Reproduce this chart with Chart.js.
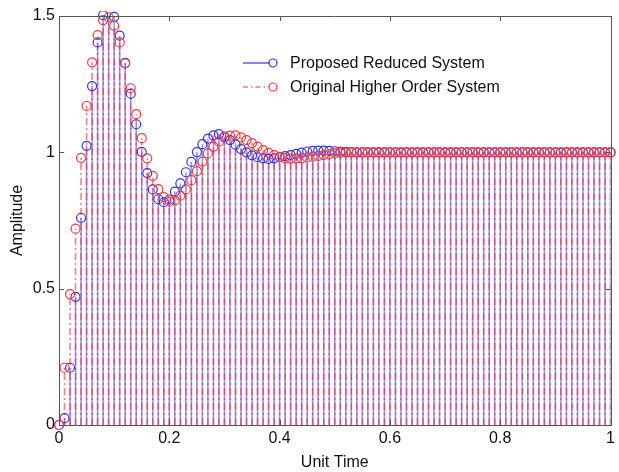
<!DOCTYPE html>
<html>
<head>
<meta charset="utf-8">
<script src="https://cdn.jsdelivr.net/npm/chart.js@4/dist/chart.umd.min.js"></script>
<style>
  html, body { margin: 0; padding: 0; background: #fff; }
  #wrap { width: 619px; height: 472px; }
</style>
</head>
<body>
<div id="wrap"><canvas id="c" width="619" height="472"></canvas></div>
<script>
// ---- data ----
const timeSteps = [0,0.01,0.02,0.03,0.04,0.05,0.06,0.07,0.08,0.09,0.1,0.11,0.12,0.13,0.14,0.15,0.16,0.17,0.18,0.19,0.2,
  0.21,0.22,0.23,0.24,0.25,0.26,0.27,0.28,0.29,0.3,0.31,0.32,0.33,0.34,0.35,0.36,0.37,0.38,0.39,0.4,
  0.41,0.42,0.43,0.44,0.45,0.46,0.47,0.48,0.49,0.5,0.51,0.52,0.53,0.54,0.55,0.56,0.57,0.58,0.59,0.6,
  0.61,0.62,0.63,0.64,0.65,0.66,0.67,0.68,0.69,0.7,0.71,0.72,0.73,0.74,0.75,0.76,0.77,0.78,0.79,0.8,
  0.81,0.82,0.83,0.84,0.85,0.86,0.87,0.88,0.89,0.9,0.91,0.92,0.93,0.94,0.95,0.96,0.97,0.98,0.99,1];

const reducedSystem = [0,0.025,0.21,0.47,0.76,1.024,1.243,1.403,1.503,1.536,1.497,
  1.428,1.328,1.215,1.103,1.002,0.924,0.864,0.828,0.817,0.827,
  0.856,0.886,0.927,0.965,1.001,1.03,1.05,1.062,1.067,1.058,
  1.045,1.028,1.012,1.0,0.989,0.982,0.978,0.976,0.978,0.982,
  0.986,0.99,0.994,0.999,1.003,1.005,1.006,1.006,1.005,1.004,
  1.003,1.002,1.001,1.0,1,1,1,1,1,1,
  1,1,1,1,1,1,1,1,1,1,
  1,1,1,1,1,1,1,1,1,1,
  1,1,1,1,1,1,1,1,1,1,
  1,1,1,1,1,1,1,1,1,1];

const originalSystem = [0,0.21,0.48,0.72,0.98,1.17,1.33,1.43,1.485,1.495,1.464,
  1.403,1.326,1.235,1.14,1.052,0.978,0.914,0.865,0.836,0.819,
  0.824,0.841,0.864,0.898,0.931,0.966,0.996,1.021,1.039,1.054,
  1.061,1.062,1.055,1.045,1.034,1.021,1.008,0.998,0.99,0.983,
  0.979,0.977,0.977,0.978,0.981,0.984,0.987,0.99,0.993,0.996,
  0.998,0.999,1,1,1,1,1,1,1,1,
  1,1,1,1,1,1,1,1,1,1,
  1,1,1,1,1,1,1,1,1,1,
  1,1,1,1,1,1,1,1,1,1,
  1,1,1,1,1,1,1,1,1,1];

const seriesNames = ['Proposed Reduced System', 'Original Higher Order System'];
const xTicks = [0, 0.2, 0.4, 0.6, 0.8, 1];
const yTicks = [0, 0.5, 1, 1.5];

// ---- build datasets ----
function stems(vals) {
  const out = [];
  vals.forEach((v, i) => {
    out.push({x: timeSteps[i], y: 0});
    out.push({x: timeSteps[i], y: v});
    out.push({x: timeSteps[i], y: null});
  });
  return out;
}
function pts(vals) { return vals.map((v, i) => ({x: timeSteps[i], y: v})); }

const BLUE = 'rgb(50,50,255)';
const RED = 'rgb(255,55,55)';
const FONT = '"Liberation Sans", Arial, sans-serif';

const boxAndTicks = {
  id: 'boxAndTicks',
  afterDatasetsDraw(chart) {
    const {ctx, chartArea: a, scales: {x, y}} = chart;
    ctx.save();
    ctx.strokeStyle = '#555';
    ctx.lineWidth = 1;
    ctx.beginPath();
    ctx.rect(Math.round(a.left) + 0.5, Math.round(a.top) + 0.5, Math.round(a.right - a.left), Math.round(a.bottom - a.top));
    ctx.stroke();
    ctx.beginPath();
    xTicks.forEach(t => {
      const px = Math.round(x.getPixelForValue(t)) + 0.5;
      ctx.moveTo(px, a.bottom); ctx.lineTo(px, a.bottom - 5);
      ctx.moveTo(px, a.top); ctx.lineTo(px, a.top + 5);
    });
    yTicks.forEach(t => {
      const py = Math.round(y.getPixelForValue(t)) + 0.5;
      ctx.moveTo(a.left, py); ctx.lineTo(a.left + 5, py);
      ctx.moveTo(a.right, py); ctx.lineTo(a.right - 5, py);
    });
    ctx.stroke();
    ctx.restore();
  },
  afterDraw(chart) {
    const {ctx} = chart;
    ctx.save();
    const rows = [
      {y: 63, color: BLUE, dash: [], text: seriesNames[0]},
      {y: 87, color: RED, dash: [5, 3, 1.5, 3], text: seriesNames[1]}
    ];
    rows.forEach(r => {
      ctx.strokeStyle = r.color;
      ctx.lineWidth = 1.2;
      ctx.setLineDash(r.dash);
      ctx.beginPath();
      ctx.moveTo(243, r.y); ctx.lineTo(269, r.y);
      ctx.stroke();
      ctx.setLineDash([]);
      ctx.beginPath();
      ctx.arc(273, r.y, 4, 0, Math.PI * 2);
      ctx.stroke();
      ctx.fillStyle = '#111';
      ctx.font = '16px ' + FONT;
      ctx.textBaseline = 'middle';
      ctx.textAlign = 'left';
      ctx.fillText(r.text, 290, r.y + 1);
    });
    ctx.restore();
  }
};

new Chart(document.getElementById('c'), {
  type: 'scatter',
  data: {
    datasets: [
      { label: seriesNames[1] + ' markers', data: pts(originalSystem), showLine: false,
        pointStyle: 'circle', pointRadius: 4.5, pointBorderWidth: 1.2, pointBorderColor: RED,
        pointBackgroundColor: 'rgba(0,0,0,0)', order: 0, clip: {left: 6, right: 6, top: 5, bottom: 6} },
      { label: seriesNames[0] + ' markers', data: pts(reducedSystem), showLine: false,
        pointStyle: 'circle', pointRadius: 4.5, pointBorderWidth: 1.2, pointBorderColor: BLUE,
        pointBackgroundColor: 'rgba(0,0,0,0)', order: 1, clip: {left: 6, right: 6, top: 5, bottom: 6} },
      { label: seriesNames[1], data: stems(originalSystem), showLine: true, spanGaps: false,
        borderColor: 'rgba(255,40,40,0.6)', borderWidth: 1.6, borderDash: [7, 3, 2, 3],
        pointRadius: 0, order: 2, clip: 0 },
      { label: seriesNames[0], data: stems(reducedSystem), showLine: true, spanGaps: false,
        borderColor: 'rgba(60,60,255,0.55)', borderWidth: 1.6,
        pointRadius: 0, order: 3, clip: 0 }
    ]
  },
  options: {
    responsive: false,
    animation: false,
    devicePixelRatio: 1,
    layout: { padding: { left: 0, right: 8, top: 16, bottom: 0 } },
    plugins: { legend: { display: false }, tooltip: { enabled: false } },
    scales: {
      x: {
        type: 'linear', min: 0, max: 1,
        afterBuildTicks: s => { s.ticks = xTicks.map(v => ({value: v})); },
        afterFit: s => { s.height = 47; },
        grid: { display: false, drawTicks: false },
        border: { display: false },
        ticks: { color: '#111', font: { family: FONT, size: 16 }, padding: 4, maxRotation: 0,
                 callback: v => String(Number(v.toFixed(1))) },
        title: { display: true, text: 'Unit Time', color: '#111', font: { family: FONT, size: 16 },
                 padding: { top: 0, bottom: 0 } }
      },
      y: {
        type: 'linear', min: 0, max: 1.5,
        afterBuildTicks: s => { s.ticks = yTicks.map(v => ({value: v})); },
        afterFit: s => { s.width = 59; },
        grid: { display: false, drawTicks: false },
        border: { display: false },
        ticks: { color: '#111', font: { family: FONT, size: 16 }, padding: 4,
                 callback: v => String(Number(v.toFixed(1))) },
        title: { display: true, text: 'Amplitude', color: '#111', font: { family: FONT, size: 16 },
                 padding: { top: 8, bottom: 0 } }
      }
    }
  },
  plugins: [boxAndTicks]
});
</script>
</body>
</html>
